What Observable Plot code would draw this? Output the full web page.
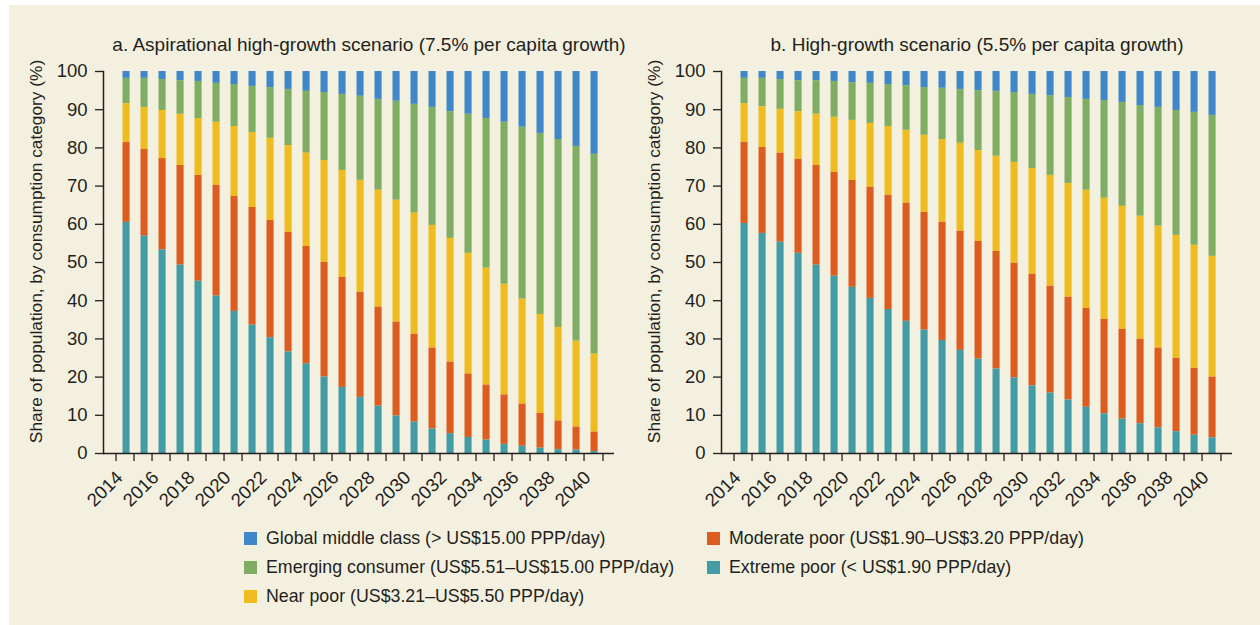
<!DOCTYPE html>
<html><head><meta charset="utf-8">
<script src="https://cdn.jsdelivr.net/npm/d3@7"></script>
<script src="https://cdn.jsdelivr.net/npm/@observablehq/plot@0.6"></script>
<style>
html,body{margin:0;padding:0;background:#fff;width:1260px;height:625px;overflow:hidden;}
#bg{position:absolute;left:9px;top:5px;width:1251px;height:620px;background:#f4f0df;}
.title{position:absolute;top:32px;font-family:"Liberation Sans",Arial,sans-serif;font-size:19px;color:#231f20;white-space:nowrap;line-height:26px;transform:translateX(-50%);}
.panel{position:absolute;top:60px;}
.leg{position:absolute;font-family:"Liberation Sans",Arial,sans-serif;font-size:17.8px;color:#231f20;white-space:nowrap;line-height:22px;height:22px;}
.sw{display:inline-block;width:13px;height:13px;vertical-align:-1px;margin-right:9px;}
</style></head><body>
<div id="bg"></div>
<div id="root"></div>
<script>
const years = [2014,2015,2016,2017,2018,2019,2020,2021,2022,2023,2024,2025,2026,2027,2028,2029,2030,2031,2032,2033,2034,2035,2036,2037,2038,2039,2040];
const yTicks = [0,10,20,30,40,50,60,70,80,90,100];
const labelYears = [2014,2016,2018,2020,2022,2024,2026,2028,2030,2032,2034,2036,2038,2040];

const categories = [
  "Global middle class (> US$15.00 PPP/day)",
  "Emerging consumer (US$5.51–US$15.00 PPP/day)",
  "Near poor (US$3.21–US$5.50 PPP/day)",
  "Moderate poor (US$1.90–US$3.20 PPP/day)",
  "Extreme poor (< US$1.90 PPP/day)"
];
const colors = ["#3f87c9", "#7fad63", "#efbc1f", "#dd5c1f", "#439ba4"];

const titleA = "a. Aspirational high-growth scenario (7.5% per capita growth)";
const titleB = "b. High-growth scenario (5.5% per capita growth)";
const yLabel = "Share of population, by consumption category (%)";

// Panel a: aspirational high-growth (shares, %)
const aExtreme  = [60.5,56.9,53.3,49.3,45.1,41.2,37.2,33.6,30.3,26.6,23.5,20.0,17.3,14.7,12.4,9.8,8.2,6.4,5.2,4.2,3.5,2.4,1.9,1.4,1.0,0.9,0.5];
const aModerate = [20.9,22.7,23.9,26.1,27.7,29.0,30.1,30.8,30.7,31.3,30.7,30.0,28.8,27.5,25.9,24.6,23.0,21.2,18.7,16.6,14.4,12.9,11.0,9.1,7.5,6.0,5.1];
const aNear     = [10.2,11.0,12.6,13.4,14.9,16.5,18.3,19.6,21.5,22.7,24.4,26.7,28.0,29.3,30.6,31.9,31.7,32.1,32.4,31.6,30.6,29.0,27.5,25.9,24.5,22.5,20.4];
const aEmerging = [6.6,7.6,8.1,8.8,9.7,10.2,11.0,12.1,13.3,14.7,16.2,17.8,19.9,22.0,23.8,25.9,28.5,30.9,33.2,36.4,39.2,42.4,45.0,47.4,49.2,51.0,52.3];
const aMiddle   = [1.8,1.8,2.1,2.4,2.6,3.1,3.4,3.9,4.2,4.7,5.2,5.5,6.0,6.5,7.3,7.8,8.6,9.4,10.5,11.2,12.3,13.3,14.6,16.2,17.8,19.6,21.7];

// Panel b: high-growth (shares, %)
const bExtreme  = [60.2,57.6,55.3,52.4,49.3,46.4,43.5,40.6,37.7,34.6,32.3,29.6,27.0,24.7,22.1,19.8,17.7,15.8,14.0,12.1,10.4,9.0,7.8,6.7,5.7,4.8,4.1];
const bModerate = [21.2,22.5,23.3,24.6,26.1,27.2,28.0,29.1,29.9,30.9,30.8,30.9,31.2,30.8,30.8,30.0,29.2,28.0,26.9,25.9,24.7,23.5,22.1,20.9,19.2,17.5,15.9];
const bNear     = [10.2,10.7,11.5,12.5,13.4,14.4,15.7,16.7,18.0,19.1,20.2,21.7,23.0,23.8,24.9,26.4,27.7,29.0,29.8,30.9,31.7,32.2,32.2,31.9,32.2,32.2,31.6];
const bEmerging = [6.6,7.4,7.8,8.1,8.8,9.4,9.9,10.5,11.0,11.7,12.5,13.4,14.1,15.7,17.0,18.3,19.4,20.9,22.5,23.8,25.6,27.2,29.0,31.1,32.7,34.8,36.9];
const bMiddle   = [1.8,1.8,2.1,2.4,2.4,2.6,2.9,3.1,3.4,3.7,4.2,4.4,4.7,5.0,5.2,5.5,6.0,6.3,6.8,7.3,7.6,8.1,8.9,9.4,10.2,10.7,11.5];

function table(series) {
  const rows = [];
  years.forEach((yr, i) => {
    series.forEach((s, k) => rows.push({year: yr, category: categories[k], value: s[i]}));
  });
  return rows;
}

const stackOrder = categories.slice().reverse(); // bottom-up
const FONT = '"Liberation Sans", Arial, sans-serif';
const INK = "#231f20";

function panel(rows, left) {
  const W = 630, H = 453, mL = 103, mR = 16, mT = 11, mB = 60;
  const step = (W - mL - mR) / years.length;
  const chart = Plot.plot({
    width: W, height: H,
    marginLeft: mL, marginRight: mR, marginTop: mT, marginBottom: mB,
    style: {background: "transparent", fontFamily: FONT, fontSize: "18.5px", color: INK, overflow: "visible"},
    x: {type: "band", domain: years, padding: 0, label: null},
    y: {domain: [0, 100], label: null},
    color: {domain: categories, range: colors},
    marks: [
      Plot.barY(rows, {x: "year", y: "value", fill: "category", order: stackOrder, insetLeft: 6.5, insetRight: 4.4}),
      Plot.ruleY([0], {stroke: INK, strokeWidth: 1.5}),
      Plot.frame({anchor: "left", stroke: INK, strokeWidth: 1.5}),
      Plot.axisY({ticks: yTicks, tickSize: 8, tickPadding: 8, stroke: INK, strokeWidth: 1.3, label: null}),
      Plot.text([yLabel], {frameAnchor: "left", rotate: -90, dx: -74, dy: -11, textAnchor: "middle", lineAnchor: "top", fontSize: 17.3, fill: INK}),
      Plot.axisX({ticks: years, tickSize: 8, tickFormat: () => "", dx: -step / 2, stroke: INK, strokeWidth: 1.3, label: null}),
      Plot.axisX({ticks: [years[years.length - 1]], tickSize: 8, tickFormat: () => "", dx: step / 2, stroke: INK, strokeWidth: 1.3, label: null}),
      Plot.axisX({ticks: labelYears, tickSize: 0, tickPadding: 21, tickRotate: -45, tickFormat: d => String(d), label: null, dx: -6})
    ]
  });
  const div = document.createElement("div");
  div.className = "panel";
  div.style.left = left + "px";
  div.appendChild(chart);
  document.getElementById("root").appendChild(div);
}

function addTitle(text, center) {
  const d = document.createElement("div");
  d.className = "title";
  d.style.left = center + "px";
  d.textContent = text;
  document.getElementById("root").appendChild(d);
}

addTitle(titleA, 369);
addTitle(titleB, 977);
panel(table([aMiddle, aEmerging, aNear, aModerate, aExtreme]), 0);
panel(table([bMiddle, bEmerging, bNear, bModerate, bExtreme]), 618);

// legend
const legPos = [[244, 527], [244, 556], [244, 585], [707, 527], [707, 556]];
categories.forEach((c, i) => {
  const d = document.createElement("div");
  d.className = "leg";
  d.style.left = legPos[i][0] + "px";
  d.style.top = legPos[i][1] + "px";
  const sw = document.createElement("span");
  sw.className = "sw";
  sw.style.background = colors[i];
  d.appendChild(sw);
  d.appendChild(document.createTextNode(c));
  document.getElementById("root").appendChild(d);
});
</script>
</body></html>
